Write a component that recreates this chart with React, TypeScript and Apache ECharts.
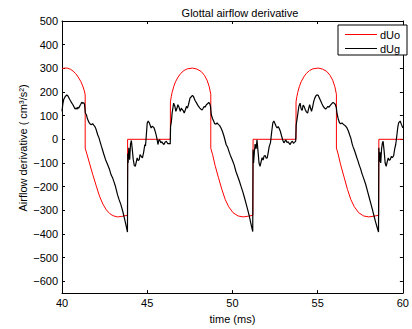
import React, { useEffect, useRef } from "react";
import * as echarts from "echarts";

const titleText = "Glottal airflow derivative";
const xName = "time (ms)";
const yName = "Airflow derivative ( cm\u00B3/s\u00B2)";
const seriesNames = ["dUo", "dUg"];
const seriesColors = ["#ff0000", "#000000"];
const xTicks = [40, 45, 50, 55, 60];
const yTicks = [-600, -500, -400, -300, -200, -100, 0, 100, 200, 300, 400, 500];
const yMin = -650;
const yMax = 500;

// dUo (red): [time ms, value]
const dUo: [number, number][] = [
  [40.0, 298], [40.15, 301], [40.3, 301], [40.5, 296], [40.65, 288], [40.8, 278], [40.95, 263],
  [41.1, 245], [41.22, 225], [41.31, 205], [41.36, 188], [41.36, -37], [41.46, -62], [41.61, -100],
  [41.8, -148], [42.0, -195], [42.2, -240], [42.4, -274], [42.6, -298], [42.8, -314], [43.0, -323],
  [43.25, -328], [43.5, -326], [43.84, -321], [43.85, 0], [46.36, 0], [46.36, 158], [46.41, 180],
  [46.46, 198], [46.56, 224], [46.66, 243], [46.81, 263], [46.96, 278], [47.16, 291], [47.36, 298],
  [47.66, 301], [47.91, 297], [48.16, 287], [48.36, 270], [48.51, 250], [48.64, 222], [48.73, 190],
  [48.73, -38], [48.83, -63], [48.98, -110], [49.18, -162], [49.38, -212], [49.58, -255], [49.78, -285],
  [50.03, -310], [50.33, -324], [50.63, -328], [50.93, -325], [51.2, -321], [51.21, 0], [53.73, 0],
  [53.73, 158], [53.78, 180], [53.83, 198], [53.93, 224], [54.03, 243], [54.18, 263], [54.33, 278],
  [54.53, 291], [54.73, 298], [55.03, 301], [55.28, 297], [55.53, 287], [55.73, 270], [55.88, 250],
  [56.01, 222], [56.1, 190], [56.1, -37], [56.2, -62], [56.35, -108], [56.55, -160], [56.75, -212],
  [56.95, -255], [57.15, -285], [57.4, -310], [57.7, -324], [58.0, -328], [58.3, -325], [58.58, -321],
  [58.59, 0], [60.0, 0],
];

// dUg (black): [time ms, value]
const dUg: [number, number][] = [
  [40.0, 118], [40.05, 150], [40.1, 168], [40.19, 181], [40.28, 187], [40.33, 185], [40.4, 176],
  [40.48, 165], [40.56, 155], [40.64, 146], [40.7, 138], [40.77, 128], [40.83, 133], [40.88, 127],
  [40.93, 136], [40.98, 131], [41.03, 139], [41.1, 148], [41.16, 157], [41.21, 152], [41.27, 155],
  [41.32, 148], [41.37, 111], [41.43, 104], [41.48, 90], [41.54, 78], [41.6, 69], [41.66, 64],
  [41.73, 62], [41.8, 66], [41.86, 60], [41.92, 55], [41.98, 46], [42.05, 30], [42.1, 18],
  [42.17, 6], [42.24, -12], [42.31, -29], [42.37, -43], [42.45, -62], [42.55, -85], [42.65, -102],
  [42.72, -115], [42.79, -128], [42.88, -150], [42.98, -165], [43.05, -180], [43.12, -195],
  [43.18, -212], [43.26, -235], [43.35, -255], [43.45, -275], [43.56, -303], [43.65, -330],
  [43.75, -362], [43.84, -392], [43.86, -60], [43.88, -100], [43.92, -36], [43.97, -86],
  [44.02, -20], [44.07, -5], [44.12, -40], [44.18, -85], [44.24, -110], [44.3, -114], [44.36, -95],
  [44.41, -79], [44.47, -90], [44.53, -86], [44.58, -65], [44.65, -72], [44.72, -79], [44.79, -55],
  [44.86, -22], [44.9, -28], [44.95, 20], [45.0, 69], [45.06, 77], [45.12, 70], [45.18, 58],
  [45.23, 48], [45.3, 56], [45.35, 52], [45.39, 50], [45.45, 38], [45.52, 20], [45.58, 0],
  [45.63, -22], [45.68, -5], [45.73, -2], [45.8, -15], [45.86, -10], [45.92, -18], [45.98, -22],
  [46.05, -12], [46.12, -8], [46.2, -18], [46.3, -18], [46.35, -20], [46.37, 55], [46.42, 76],
  [46.46, 110], [46.55, 153], [46.62, 140], [46.68, 118], [46.74, 130], [46.8, 146], [46.87, 135],
  [46.94, 118], [47.0, 132], [47.06, 125], [47.12, 120], [47.17, 111], [47.24, 125], [47.3, 139],
  [47.36, 132], [47.42, 146], [47.51, 174], [47.6, 181], [47.65, 186], [47.72, 180], [47.8, 165],
  [47.9, 153], [48.0, 140], [48.09, 132], [48.16, 127], [48.22, 124], [48.28, 131], [48.34, 139],
  [48.4, 136], [48.47, 146], [48.54, 150], [48.61, 156], [48.67, 150], [48.71, 140], [48.76, 104],
  [48.83, 88], [48.9, 76], [48.96, 66], [49.04, 64], [49.1, 69], [49.17, 63], [49.25, 58],
  [49.33, 48], [49.41, 34], [49.5, 14], [49.57, -5], [49.63, -22], [49.73, -36], [49.8, -52],
  [49.88, -68], [49.95, -80], [50.02, -93], [50.1, -108], [50.2, -135], [50.3, -155], [50.4, -175],
  [50.5, -198], [50.6, -220], [50.7, -245], [50.8, -272], [50.89, -296], [50.98, -322],
  [51.08, -355], [51.19, -390], [51.21, -43], [51.24, -100], [51.28, -60], [51.33, -20],
  [51.39, -40], [51.44, -2], [51.5, -50], [51.56, -100], [51.62, -114], [51.68, -95], [51.74, -78],
  [51.8, -88], [51.85, -72], [51.92, -68], [51.98, -80], [52.04, -79], [52.1, -55], [52.16, -30],
  [52.23, -15], [52.3, 30], [52.37, 70], [52.43, 77], [52.5, 66], [52.56, 55], [52.62, 48],
  [52.68, 54], [52.75, 45], [52.81, 34], [52.88, 15], [52.96, -5], [53.02, -15], [53.08, -8],
  [53.14, -3], [53.2, -14], [53.27, -10], [53.33, -18], [53.39, -22], [53.45, -12], [53.52, -8],
  [53.58, -17], [53.64, -13], [53.71, -8], [53.74, 60], [53.78, 80], [53.84, 110], [53.9, 140],
  [53.97, 153], [54.03, 128], [54.09, 122], [54.15, 145], [54.21, 138], [54.28, 124], [54.35, 115],
  [54.41, 111], [54.47, 130], [54.53, 146], [54.59, 130], [54.64, 118], [54.7, 135], [54.77, 160],
  [54.83, 174], [54.9, 184], [54.96, 188], [55.03, 186], [55.1, 175], [55.18, 162], [55.25, 150],
  [55.32, 140], [55.4, 132], [55.47, 128], [55.53, 133], [55.6, 139], [55.67, 136], [55.74, 143],
  [55.82, 150], [55.9, 156], [55.97, 152], [56.03, 148], [56.09, 135], [56.14, 108], [56.2, 88],
  [56.28, 70], [56.35, 66], [56.42, 69], [56.5, 64], [56.57, 60], [56.65, 55], [56.72, 48],
  [56.8, 35], [56.88, 18], [56.95, 4], [57.02, -18], [57.08, -32], [57.15, -45], [57.22, -60],
  [57.3, -78], [57.36, -90], [57.43, -107], [57.52, -125], [57.6, -145], [57.7, -165],
  [57.82, -191], [57.92, -218], [58.02, -245], [58.12, -272], [58.21, -296], [58.3, -322],
  [58.4, -350], [58.5, -375], [58.57, -392], [58.59, -36], [58.62, -95], [58.66, -55],
  [58.7, -100], [58.75, -40], [58.8, -15], [58.84, -8], [58.9, -50], [58.96, -100], [59.02, -114],
  [59.08, -95], [59.14, -79], [59.2, -88], [59.26, -86], [59.32, -72], [59.38, -78], [59.46, -69],
  [59.52, -40], [59.58, -22], [59.64, 13], [59.7, 50], [59.75, 69], [59.84, 77], [59.92, 62],
  [60.0, 48],
];

const FONT = "'Liberation Sans', Arial, Helvetica, sans-serif";

export default function App() {
  const ref = useRef<HTMLDivElement>(null);
  useEffect(() => {
    if (!ref.current) return;
    const chart = echarts.init(ref.current, null, { renderer: "svg" });
    const minus = (v: number) => String(v).replace("-", "\u2212");
    const axisLine = { show: true, onZero: false, lineStyle: { color: "#000", width: 1 } };
    const tick = { show: true, inside: true, length: 3, lineStyle: { color: "#000", width: 1 } };

    // legend box drawn as graphics (line icons like MATLAB)
    const lgX = 338, lgY = 25, lgW = 69, lgH = 30;
    const legendGraphics: any[] = [
      {
        type: "rect",
        shape: { x: lgX, y: lgY, width: lgW, height: lgH },
        style: { fill: "#fff", stroke: "#000", lineWidth: 1 },
        z: 100,
      },
    ];
    seriesNames.forEach((name, i) => {
      const y = lgY + 9.5 + i * 14;
      legendGraphics.push({
        type: "line",
        shape: { x1: lgX + 7, y1: y, x2: lgX + 39, y2: y },
        style: { stroke: seriesColors[i], lineWidth: 1 },
        z: 101,
      });
      legendGraphics.push({
        type: "text",
        x: lgX + 42,
        y: y + 0.5,
        style: {
          text: name,
          fontSize: 11,
          fontFamily: FONT,
          fill: "#000",
          textAlign: "left",
          textVerticalAlign: "middle",
        },
        z: 101,
      });
    });

    chart.setOption({
      animation: false,
      backgroundColor: "#fff",
      textStyle: { fontFamily: FONT },
      title: {
        text: titleText,
        left: 235,
        top: 2,
        textAlign: "center",
        textStyle: { fontSize: 11, fontWeight: "normal", color: "#000", fontFamily: FONT },
      },
      grid: { left: 62, right: 4, top: 21, bottom: 35, containLabel: false },
      xAxis: [
        {
          type: "value",
          min: xTicks[0],
          max: xTicks[xTicks.length - 1],
          interval: 5,
          name: xName,
          nameLocation: "middle",
          nameGap: 16,
          nameTextStyle: { fontSize: 11, color: "#000", fontFamily: FONT },
          axisLine,
          axisTick: tick,
          axisLabel: {
            fontSize: 11,
            color: "#000",
            margin: 4,
            fontFamily: FONT,
            alignMaxLabel: "center",
            alignMinLabel: "center",
            hideOverlap: false,
          },
          splitLine: { show: false },
        },
        {
          type: "value",
          position: "top",
          min: xTicks[0],
          max: xTicks[xTicks.length - 1],
          interval: 5,
          axisLine,
          axisTick: tick,
          axisLabel: { show: false },
          splitLine: { show: false },
        },
      ],
      yAxis: [
        {
          type: "value",
          min: yMin,
          max: yMax,
          axisLine,
          axisTick: { ...tick, customValues: yTicks },
          axisLabel: {
            fontSize: 11,
            color: "#000",
            margin: 4,
            fontFamily: FONT,
            customValues: yTicks,
            formatter: minus,
          },
          splitLine: { show: false },
        },
        {
          type: "value",
          position: "right",
          min: yMin,
          max: yMax,
          axisLine,
          axisTick: { ...tick, customValues: yTicks },
          axisLabel: { show: false, customValues: yTicks },
          splitLine: { show: false },
        },
      ],
      graphic: [
        {
          type: "text",
          x: 23,
          y: 148,
          rotation: Math.PI / 2,
          style: {
            text: yName,
            fontSize: 11,
            fontFamily: FONT,
            fill: "#000",
            textAlign: "center",
            textVerticalAlign: "middle",
          },
        },
        ...legendGraphics,
      ],
      series: [
        {
          name: seriesNames[0],
          type: "line",
          data: dUo,
          symbol: "none",
          lineStyle: { color: seriesColors[0], width: 1 },
          itemStyle: { color: seriesColors[0] },
        },
        {
          name: seriesNames[1],
          type: "line",
          data: dUg,
          symbol: "none",
          lineStyle: { color: seriesColors[1], width: 1.2 },
          itemStyle: { color: seriesColors[1] },
        },
      ],
    });
    return () => chart.dispose();
  }, []);
  return (
    <div
      ref={ref}
      style={{ position: "fixed", left: 0, top: 0, width: 412, height: 329 }}
    />
  );
}
